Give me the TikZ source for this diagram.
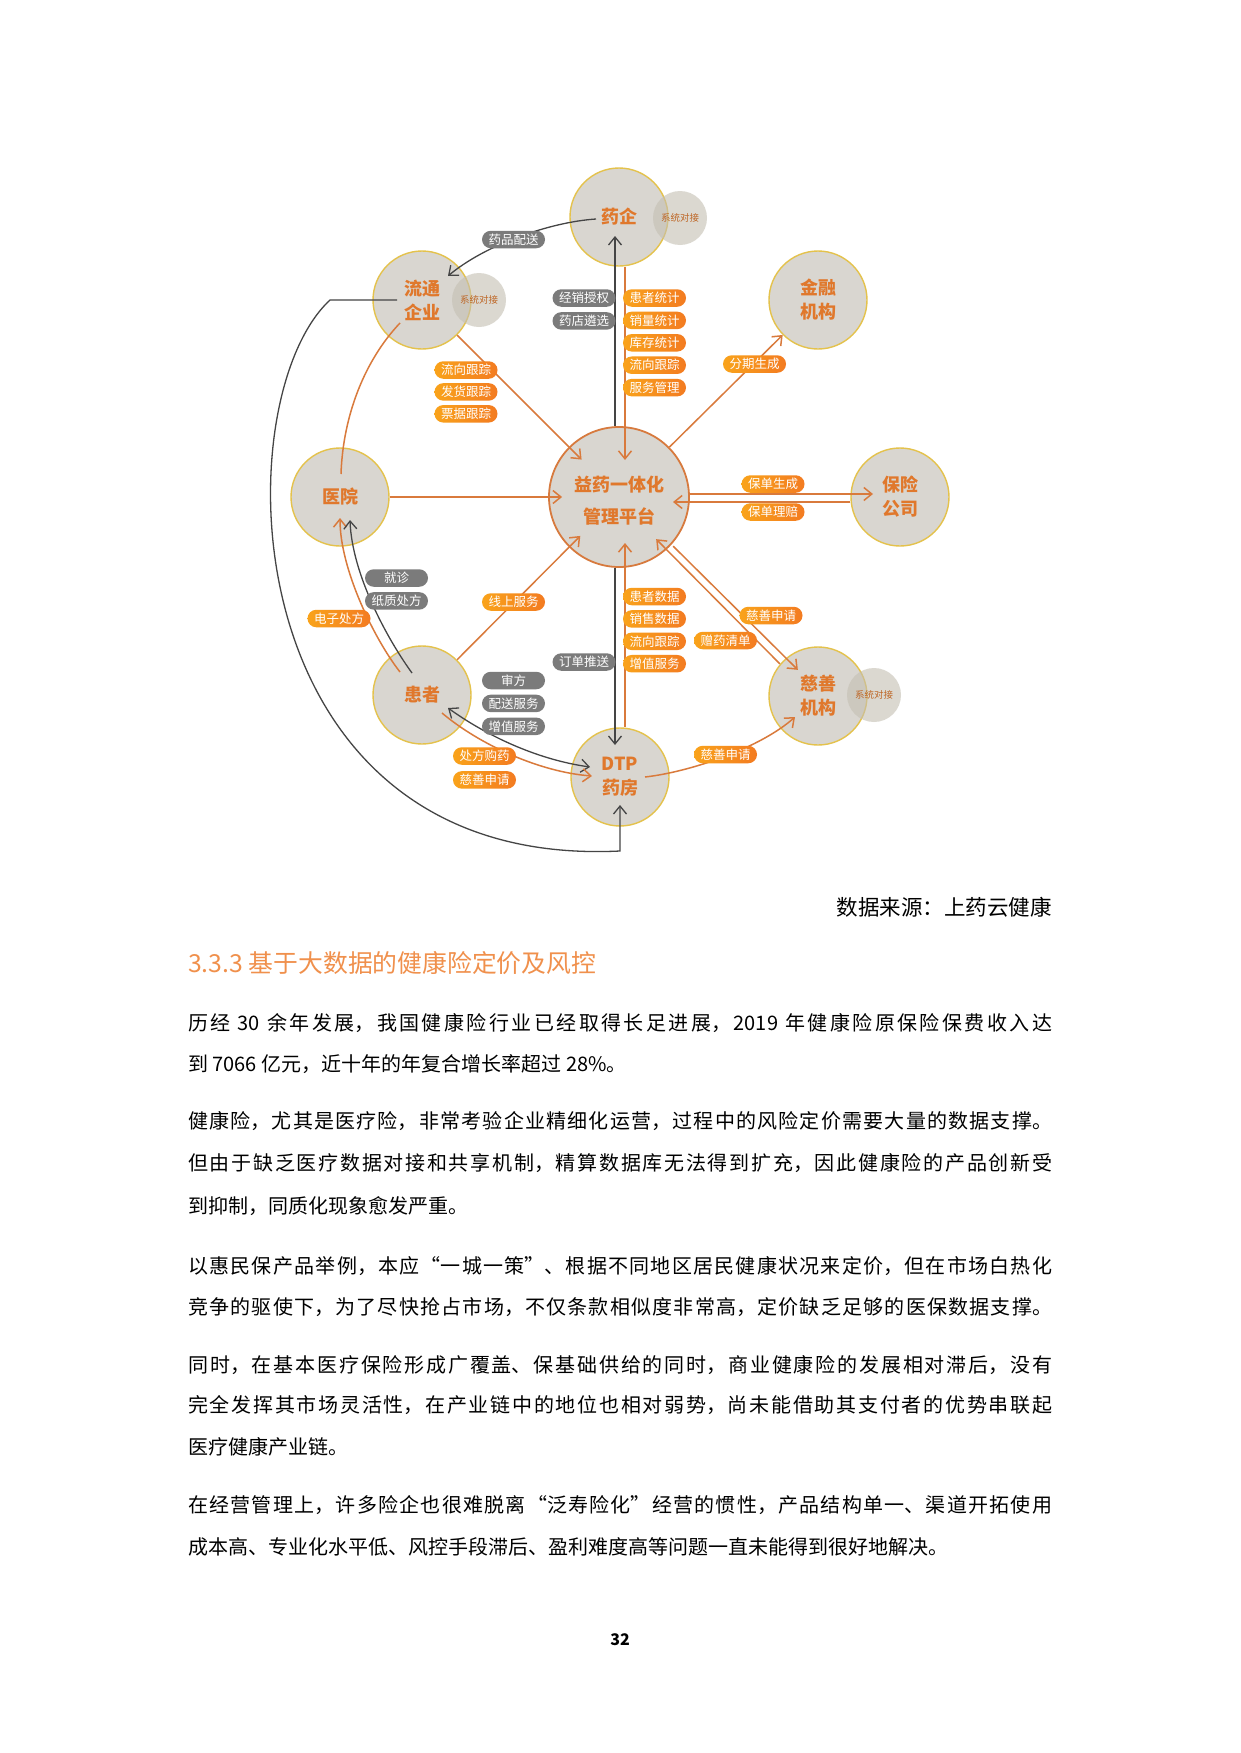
\documentclass[tikz,border=0pt]{standalone}
\usepackage{fontspec}
\setmainfont{Noto Sans CJK SC}
\usetikzlibrary{positioning, arrows.meta}
\XeTeXlinebreaklocale "zh"
\XeTeXlinebreakskip=0pt plus 2pt

\definecolor{discfill}{HTML}{D9D6D0}
\definecolor{discline}{HTML}{E4C24C}
\definecolor{hubline}{HTML}{D77A3E}
\definecolor{disctext}{HTML}{E0782C}
\definecolor{sysfill}{HTML}{C4BFB2}
\definecolor{flowor}{HTML}{D97A3C}
\definecolor{flowgr}{HTML}{454545}
\definecolor{pillor1}{HTML}{F9A31B}
\definecolor{pillor2}{HTML}{F37B21}
\definecolor{pillgr}{HTML}{7B7B7B}
\definecolor{heador}{HTML}{F0904C}

\newcommand\bodyfont{\fontsize{20}{20}\selectfont}
\newcommand\jline[1]{\parfillskip=0pt #1\par}
\newcommand\lowered[1]{\raisebox{-4pt}[\height][\depth]{#1}}

\begin{document}
\begin{tikzpicture}[
    x=1pt, y=-1pt,
    >={Straight Barb[length=8pt,width=13pt]},
    disc/.style={circle, draw=discline, line width=1.4pt, fill=discfill,
        minimum size=98pt, inner sep=0pt, align=center, text=disctext,
        font=\fontsize{18}{24}\selectfont\bfseries},
    hub/.style={disc, draw=hubline, line width=1.8pt, minimum size=140pt,
        font=\fontsize{18}{32}\selectfont\bfseries},
    sysdisc/.style={circle, fill=sysfill, fill opacity=0.6, text opacity=1,
        minimum size=54pt, inner sep=0pt, text=disctext!85!black,
        font=\fontsize{9.5}{9.5}\selectfont},
    pill/.style={rectangle, rounded corners=8.75pt, minimum width=63pt,
        minimum height=17.5pt, inner sep=0pt, text=white,
        font=\fontsize{12.5}{12.5}\selectfont},
    opill/.style={pill, left color=pillor1, right color=pillor2},
    gpill/.style={pill, fill=pillgr},
    oline/.style={draw=flowor, line width=1.5pt},
    oflow/.style={oline, ->},
    gflow/.style={draw=flowgr, line width=1.3pt, ->},
    fullline/.style={anchor=west, inner sep=0pt, text width=864pt, align=justify, font=\bodyfont},
    lastline/.style={anchor=west, inner sep=0pt, font=\bodyfont},
]

\fill[white] (0,0) rectangle (1240,1753);
\useasboundingbox (0,0) rectangle (1240,1753);

\node[disc] (yq) at (619,217) {药企};
\node[sysdisc] (yqsys) at (680,218) {系统对接};
\node[disc] (ltqy) at (422,300) {流通\\企业};
\node[sysdisc] (ltsys) at (479,300) {系统对接};
\node[disc] (jrjg) at (818,300) {金融\\机构};
\node[hub] (hub) at (619,497) {\lowered{益药一体化}\\\lowered{管理平台}};
\node[disc] (yy) at (340,497) {医院};
\node[disc] (bxgs) at (900,497) {保险\\公司};
\node[disc] (hz) at (422,695) {患者};
\node[disc] (csjg) at (818,696) {慈善\\机构};
\node[sysdisc] (cssys) at (874,695) {系统对接};
\node[disc] (dtp) at (620,777) {DTP\\药房};
\coordinate (arcfoot) at ([yshift=-74pt]dtp.center);

% spokes of the platform
\draw[oflow, shorten >=-18pt] (ltqy) -- (hub);
\draw[oflow, shorten >=-14pt] (yy) -- (hub);
\draw[oflow, shorten >=-16pt] (hz) -- (hub);
\draw[oflow] (hub) -- (jrjg);
\draw[gflow] ([xshift=-4pt]hub.north) -- ([shift={(-4pt,-19pt)}]yq.center);
\draw[oflow] ([xshift=6pt]yq.south) -- ([shift={(6pt,37pt)}]hub.center);
\draw[gflow] ([xshift=-4pt]hub.south) -- ([shift={(-5pt,32pt)}]dtp.center);
\draw[oflow] ([xshift=5pt]dtp.north) -- ([shift={(6pt,-46pt)}]hub.center);
\draw[oflow] ([yshift=3pt]hub.east) -- ([shift={(-27pt,3pt)}]bxgs.center);
\draw[oflow] ([yshift=-5pt]bxgs.west) -- ([shift={(54pt,-5pt)}]hub.center);
\draw[oflow] ([shift={(4pt,1pt)}]hub.-45) -- ([shift={(15pt,-9pt)}]csjg.135);
\draw[oflow] ([shift={(-3pt,-3pt)}]csjg.135) -- ([shift={(-13pt,8pt)}]hub.-45);

% curved flows
\draw[gflow] ([shift={(-23pt,-2pt)}]yq.center) .. controls (550,222) and (485,245)
    .. ([shift={(26pt,24pt)}]ltqy.center);
\draw[oline] ([shift={(1pt,23pt)}]yy.center) .. controls (343,415) and (365,360)
    .. ([shift={(-22pt,-23pt)}]ltqy.center);
\draw[oflow] ([shift={(-22pt,23pt)}]hz.center) .. controls (375,640) and (340,570)
    .. ([yshift=-21pt]yy.center);
\draw[gflow] ([shift={(-10pt,22pt)}]hz.center) .. controls (388,640) and (352,575)
    .. ([shift={(10pt,-23pt)}]yy.center);
\draw[gflow, <->] ([shift={(-30pt,10pt)}]dtp.center) .. controls (540,760) and (490,738)
    .. ([shift={(26pt,-13pt)}]hz.center);
\draw[oflow] ([shift={(20pt,-18pt)}]hz.center) .. controls (480,745) and (540,772)
    .. ([shift={(-28pt,1pt)}]dtp.center);
\draw[oflow] ([xshift=25pt]dtp.center) .. controls (690,772) and (760,748)
    .. ([shift={(-23pt,-21pt)}]csjg.center);
\draw[gflow] ([xshift=-25pt]ltqy.center) -- ++(-67,0) .. controls (222,400) and (230,870)
    .. (arcfoot) -- ([yshift=-28pt]dtp.center);

% labels on the flows
\node[gpill] (ypps) at (513.5,239.5) {药品配送};
\node[gpill] (jxsq) at (584,298) {经销授权};
\node[gpill, below=5pt of jxsq] (ydlx) {药店遴选};
\node[opill] (hztj) at (654.5,298) {患者统计};
\node[opill, below=4.5pt of hztj] (xltj) {销量统计};
\node[opill, below=4.5pt of xltj] (kctj) {库存统计};
\node[opill, below=4.5pt of kctj] (lxgza) {流向跟踪};
\node[opill, below=4.5pt of lxgza] (fwgl) {服务管理};
\node[opill] (lxgzb) at (466,370) {流向跟踪};
\node[opill, below=4pt of lxgzb] (fhgz) {发货跟踪};
\node[opill, below=4pt of fhgz] (pjgz) {票据跟踪};
\node[opill] (fqsc) at (754.5,364) {分期生成};
\node[opill] (bdsc) at (773,484) {保单生成};
\node[opill] (bdlp) at (773,512) {保单理赔};
\node[gpill] (jz) at (396.5,578) {就诊};
\node[gpill, below=5pt of jz] (zzcf) {纸质处方};
\node[opill] (dzcf) at (339,618.5) {电子处方};
\node[opill] (xsfw) at (513.5,602) {线上服务};
\node[opill] (hzsj) at (654.5,596.5) {患者数据};
\node[opill, below=4.5pt of hzsj] (xssj) {销售数据};
\node[opill, below=4.5pt of xssj] (lxgzc) {流向跟踪};
\node[opill, below=4.5pt of lxgzc] (zzfwa) {增值服务};
\node[gpill] (ddts) at (584,662) {订单推送};
\node[opill] (zyqd) at (725.5,640.5) {赠药清单};
\node[opill] (cssqa) at (771,615.5) {慈善申请};
\node[gpill] (sf) at (513.5,680.5) {审方};
\node[gpill, below=5pt of sf] (psfw) {配送服务};
\node[gpill, below=5pt of psfw] (zzfwb) {增值服务};
\node[opill] (cfgy) at (484.5,756) {处方购药};
\node[opill, below=6pt of cfgy] (cssqb) {慈善申请};
\node[opill] (cssqc) at (725.5,754.5) {慈善申请};

% page text
\node[anchor=east, inner sep=0pt, font=\fontsize{21.5}{21.5}\selectfont] (src) at (1052,907) {数据来源：上药云健康};
\node[anchor=west, inner sep=0pt, text=heador, font=\fontsize{24.8}{24.8}\selectfont] (sec) at (188,963)
    {3.3.3 基于大数据的健康险定价及风控};

\node[fullline] (pa1) at (188,1023) {\jline{历经 30 余年发展，我国健康险行业已经取得长足进展，2019 年健康险原保险保费收入达}};
\node[lastline] (pa2) at (188,1064) {到\ 7066\ 亿元，近十年的年复合增长率超过\ 28\%。};

\node[fullline] (pb1) at (188,1121) {\jline{健康险，尤其是医疗险，非常考验企业精细化运营，过程中的风险定价需要大量的数据支撑。}};
\node[fullline] (pb2) at (188,1163) {\jline{但由于缺乏医疗数据对接和共享机制，精算数据库无法得到扩充，因此健康险的产品创新受}};
\node[lastline] (pb3) at (188,1206) {到抑制，同质化现象愈发严重。};

\node[fullline] (pc1) at (188,1266) {\jline{以惠民保产品举例，本应“一城一策”、根据不同地区居民健康状况来定价，但在市场白热化}};
\node[fullline] (pc2) at (188,1307) {\jline{竞争的驱使下，为了尽快抢占市场，不仅条款相似度非常高，定价缺乏足够的医保数据支撑。}};

\node[fullline] (pd1) at (188,1365) {\jline{同时，在基本医疗保险形成广覆盖、保基础供给的同时，商业健康险的发展相对滞后，没有}};
\node[fullline] (pd2) at (188,1405) {\jline{完全发挥其市场灵活性，在产业链中的地位也相对弱势，尚未能借助其支付者的优势串联起}};
\node[lastline] (pd3) at (188,1447) {医疗健康产业链。};

\node[fullline] (pe1) at (188,1505) {\jline{在经营管理上，许多险企也很难脱离“泛寿险化”经营的惯性，产品结构单一、渠道开拓使用}};
\node[lastline] (pe2) at (188,1547) {成本高、专业化水平低、风控手段滞后、盈利难度高等问题一直未能得到很好地解决。};

\node[font=\fontsize{16}{16}\selectfont\bfseries] (pgno) at (620,1640) {32};

\end{tikzpicture}
\end{document}
